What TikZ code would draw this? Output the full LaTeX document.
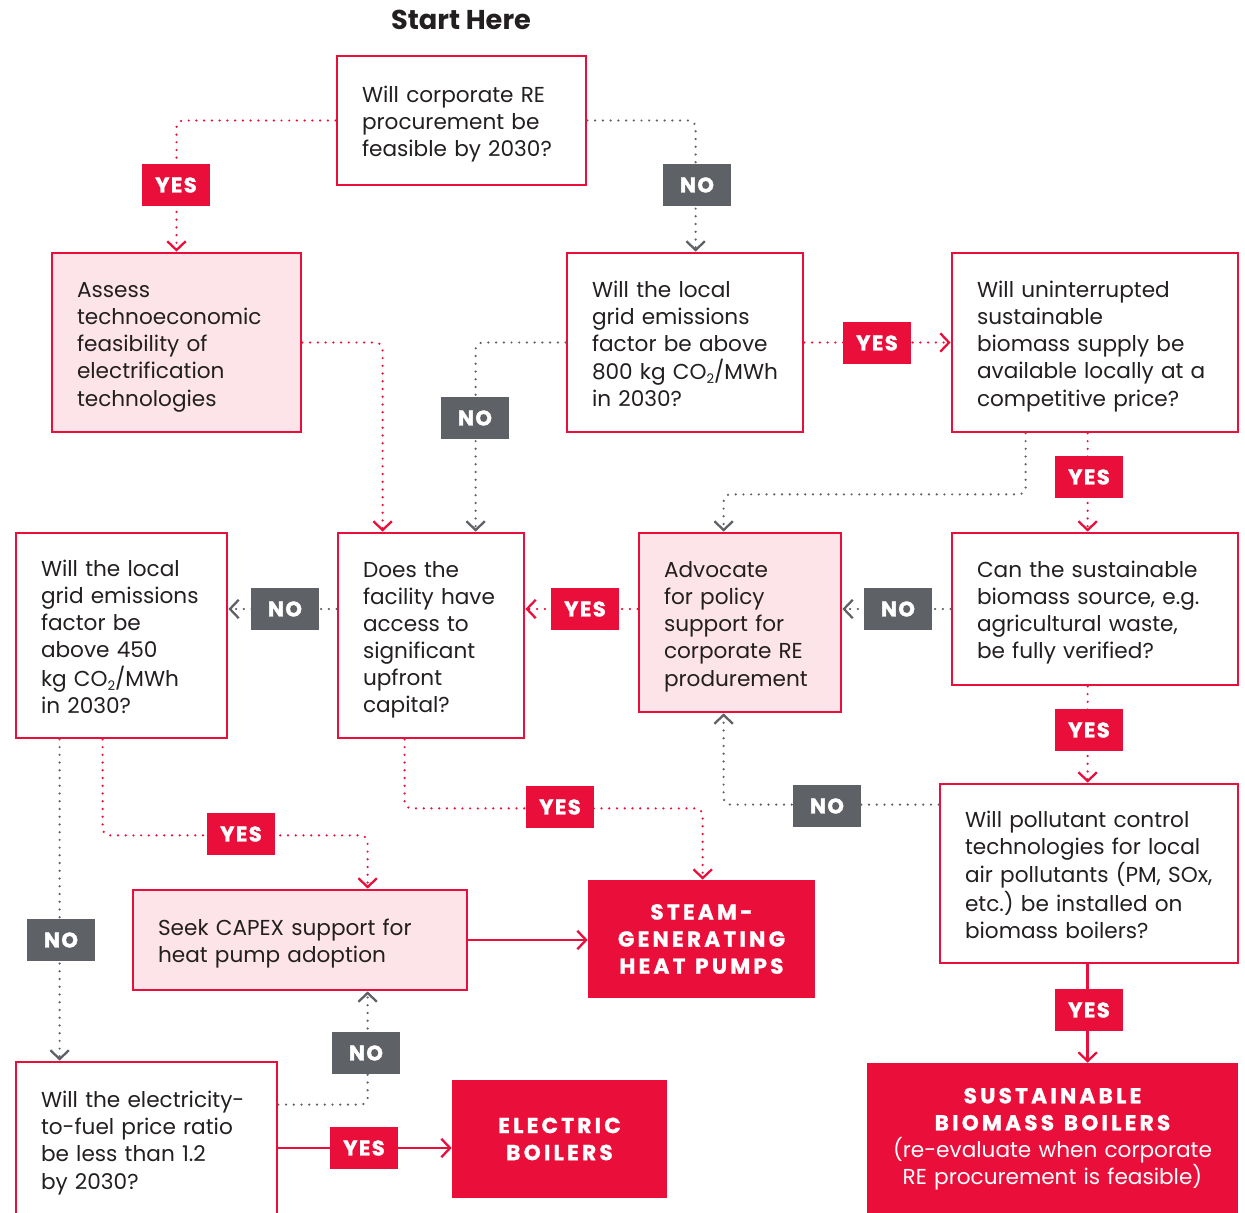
\documentclass[tikz,border=0pt]{standalone}
\usepackage{fontspec}
\setmainfont{Poppins}
\newfontfamily\tagfont{Poppins}[LetterSpace=7,BoldFeatures={FakeBold=1.5}]
\newfontfamily\resfont{Poppins}[LetterSpace=15,BoldFeatures={FakeBold=1.2}]
\usetikzlibrary{arrows.meta,calc}
\definecolor{myred}{HTML}{EA0F3B}
\definecolor{mypink}{HTML}{FDE4E8}
\definecolor{mygray}{HTML}{5E6166}
\definecolor{mytext}{HTML}{231F20}
\newcommand\bx[1]{\noindent\raisebox{-0.08cm}[\height][\depth]{\begin{tabular}{@{}l@{}}#1\end{tabular}}}
\newcommand\rb[1]{{\resfont\bfseries #1}}
\newcommand\wsp{\hspace{0.45em}}
\newcommand\cotwo{CO\raisebox{-0.35ex}{\fontsize{7.5pt}{8pt}\selectfont 2}}
\begin{document}
\frenchspacing
\begin{tikzpicture}[x=0.02cm,y=-0.02cm,
 box/.style={draw=myred,line width=1.6pt,text=mytext,align=left,inner sep=0pt,
   font=\fontsize{12.3pt}{15.4pt}\selectfont\frenchspacing},
 qbox/.style={box,fill=white},
 abox/.style={box,fill=mypink},
 rbox/.style={fill=myred,text=white,align=center,inner sep=0pt,
   font=\fontsize{12.3pt}{15.4pt}\selectfont},
 tag/.style={minimum width=1.36cm,minimum height=0.84cm,inner sep=0pt,text=white,
   font=\tagfont\bfseries\fontsize{12pt}{14pt}\selectfont},
 ytag/.style={tag,fill=myred},
 ntag/.style={tag,fill=mygray},
 conn/.style={line width=1.4pt,line cap=round,rounded corners=4pt,
   -{Straight Barb[length=5pt,width=10.5pt,line width=1.3pt]}},
 ydot/.style={conn,draw=myred,dash pattern=on 0pt off 4.4pt},
 ndot/.style={conn,draw=mygray,dash pattern=on 0pt off 4.4pt},
 ysolid/.style={conn,draw=myred}
]
\useasboundingbox (0,0) rectangle (1245,1213);

\node[font=\bfseries\fontsize{15.5pt}{18pt}\selectfont,text=mytext] (title) at (461,20) {Start Here};

% boxes
\node[qbox,minimum width=4.98cm,minimum height=2.58cm,text width=3.98cm] (q1) at (461.5,120.5)
  {\bx{Will corporate RE\\procurement be\\feasible by 2030?}};
\node[abox,minimum width=4.98cm,minimum height=3.58cm,text width=3.98cm] (a1) at (176.5,342.5)
  {\bx{Assess\\technoeconomic\\feasibility of\\electrification\\technologies}};
\node[qbox,minimum width=4.72cm,minimum height=3.58cm,text width=3.72cm] (q2) at (685,342.5)
  {\bx{Will the local\\grid emissions\\factor be above\\800 kg \cotwo/MWh\\in 2030?}};
\node[qbox,minimum width=5.72cm,minimum height=3.58cm,text width=4.72cm] (q3) at (1095,342.5)
  {\bx{Will uninterrupted\\sustainable\\biomass supply be\\available locally at a\\competitive price?}};
\node[qbox,minimum width=4.22cm,minimum height=4.10cm,text width=3.22cm] (q4) at (121.5,635.5)
  {\bx{Will the local\\grid emissions\\factor be\\above 450\\kg \cotwo/MWh\\in 2030?}};
\node[qbox,minimum width=3.72cm,minimum height=4.10cm,text width=2.72cm] (q5) at (431,635.5)
  {\bx{Does the\\facility have\\access to\\significant\\upfront\\capital?}};
\node[abox,minimum width=4.04cm,minimum height=3.58cm,text width=3.04cm] (a2) at (740,622.5)
  {\bx{Advocate\\for policy\\support for\\corporate RE\\produrement}};
\node[qbox,minimum width=5.72cm,minimum height=3.04cm,text width=4.72cm] (q6) at (1095,609)
  {\bx{Can the sustainable\\biomass source, e.g.\\agricultural waste,\\be fully verified?}};
\node[qbox,minimum width=5.96cm,minimum height=3.58cm,text width=4.96cm] (q7) at (1089,873.5)
  {\bx{Will pollutant control\\technologies for local\\air pollutants (PM, SOx,\\etc.) be installed on\\biomass boilers?}};
\node[abox,minimum width=6.68cm,minimum height=2.0cm,text width=5.68cm] (a3) at (300,940)
  {\bx{Seek CAPEX support for\\heat pump adoption}};
\node[qbox,minimum width=5.22cm,minimum height=3.08cm,text width=4.22cm] (q8) at (146.5,1139)
  {\bx{Will the electricity-\\to-fuel price ratio\\be less than 1.2\\by 2030?}};
\node[rbox,minimum width=4.54cm,minimum height=2.36cm,text width=4.54cm] (r1) at (701.5,939)
  {\rb{STEAM-}\\\rb{GENERATING}\\\rb{HEAT\wsp PUMPS}};
\node[rbox,minimum width=4.3cm,minimum height=2.36cm,text width=4.3cm] (r2) at (559.5,1139)
  {\rb{ELECTRIC}\\\rb{BOILERS}};
\node[rbox,minimum width=7.42cm,minimum height=3.04cm,text width=7.42cm] (r3) at (1052.5,1139)
  {\rb{SUSTAINABLE}\\\rb{BIOMASS\wsp BOILERS}\\(re-evaluate when corporate\\RE procurement is feasible)};

% connectors
\draw[ydot] (q1.west) -| (a1.north);
\draw[ndot] (q1.east) -| ($(q2.north west)+(130,0)$);
\draw[ydot] (q2.east) -- (q3.west);
\draw[ndot] (q2.west) -| ($(q5.north west)+(139,0)$);
\draw[ydot] (a1.east) -| ($(q5.north west)+(46,0)$);
\draw[ndot] ($(q3.south west)+(75,0)$) -- ++(0,61) -| ($(a2.north west)+(86,0)$);
\coordinate (c7) at ($(q3.south west)+(137,0)$);
\draw[ydot] (c7) -- (c7 |- q6.north);
\draw[ndot] (q6.west) -- (q6.west -| a2.east);
\draw[ydot] (a2.west |- q6.west) -- (q5.east |- q6.west);
\draw[ndot] (q5.west |- q6.west) -- (q4.east |- q6.west);
\draw[ydot] (c7 |- q6.south) -- (c7 |- q7.north);
\draw[ndot] ($(q7.north west)+(0,22)$) -| ($(a2.south west)+(86,0)$);
\draw[ydot] ($(q5.south west)+(68,0)$) -- ++(0,69) -| ($(r1.north west)+(115,0)$);
\draw[ydot] ($(q4.south west)+(88,0)$) -- ++(0,96) -| ($(a3.north west)+(236,0)$);
\draw[ndot] ($(q4.south west)+(45,0)$) -- ($(q8.north west)+(45,0)$);
\draw[ndot] ($(q8.north east)+(0,44)$) -| ($(a3.south west)+(236,0)$);
\coordinate (r2in) at ($(r2.west)+(0,9)$);
\draw[ysolid] (q8.east |- r2in) -- (r2in);
\draw[ysolid] (a3.east) -- (a3.east -| r1.west);
\draw[ysolid] (c7 |- q7.south) -- (c7 |- r3.north);

% tags
\node[ytag] (t1) at (176,185) {YES};
\node[ntag] (t2) at (697,185) {NO};
\node[ytag] (t3) at (877,343) {YES};
\node[ntag] (t4) at (475,418) {NO};
\node[ytag] (t5) at (1089,477) {YES};
\node[ntag] (t6) at (898,609) {NO};
\node[ytag] (t7) at (585,609) {YES};
\node[ntag] (t8) at (285,609) {NO};
\node[ytag] (t9) at (1089,730) {YES};
\node[ntag] (t10) at (827,806) {NO};
\node[ytag] (t11) at (560,807) {YES};
\node[ytag] (t12) at (241,834) {YES};
\node[ntag] (t13) at (61,940) {NO};
\node[ntag] (t14) at (366,1053) {NO};
\node[ytag] (t15) at (364,1148) {YES};
\node[ytag] (t16) at (1089,1010) {YES};
\end{tikzpicture}
\end{document}
